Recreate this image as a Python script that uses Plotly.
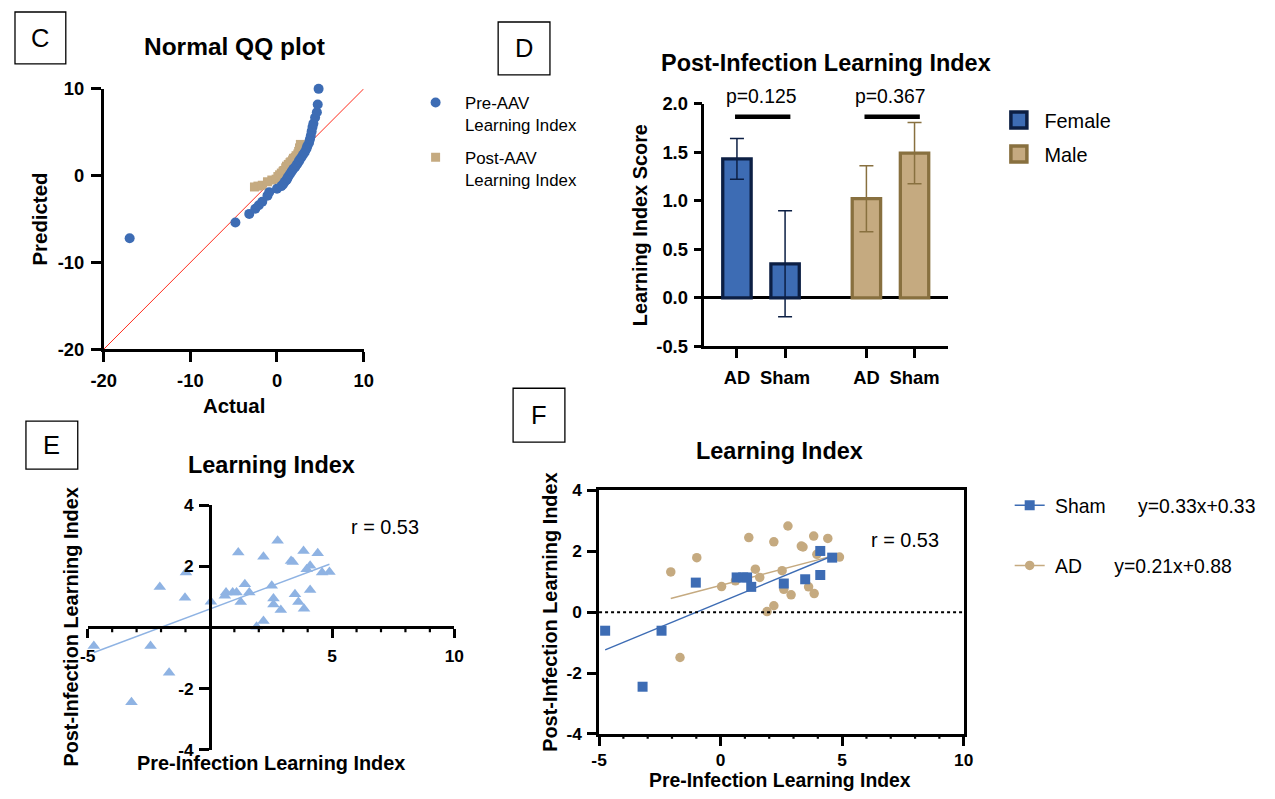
import numpy as np
import plotly.graph_objects as go

W, H = 1275, 799
# Mapping from target picture pixels to figure pixels (the page places the
# figure slightly inset and scaled), used for all layout positions below.
AX, AY, SX, SY = 10.0, 9.0, 0.9857, 0.9756
FS = 1 / 0.98   # font size compensation for that scaling
FONT = "Liberation Sans, Arial, Helvetica, sans-serif"

BLUE = "#3D6CB4"
NAVY = "#0C1F44"
TAN = "#C5AA80"
BROWN = "#88703F"
LIGHT_BLUE = "#8FB3E3"
RED = "#FF2A1A"

# ---------------- Panel C: normal QQ plot ----------------
pre_actual = [-17.0, -4.8, -3.2, -2.5, -2.1, -1.7, -1.1, -0.9, 0.0, 0.5, 0.7, 0.9,
              1.1, 1.2, 1.3, 1.5, 1.7, 1.9, 2.1, 2.3, 2.5, 2.6, 2.8, 3.0, 3.2, 3.4,
              3.5, 3.7, 3.8, 3.9, 4.0, 4.1, 4.2, 4.4, 4.6, 4.7, 4.8]
pre_predicted = [-7.2, -5.4, -4.4, -3.8, -3.4, -3.0, -2.3, -1.9, -1.5, -1.2, -1.0, -0.7,
                 -0.5, -0.3, -0.1, 0.2, 0.5, 0.8, 1.0, 1.3, 1.6, 1.8, 2.1, 2.4, 2.7, 3.1,
                 3.4, 3.8, 4.2, 4.6, 5.1, 5.6, 6.0, 6.7, 7.3, 8.2, 10.0]
post_actual = [-2.6, -2.2, -1.7, -1.1, -0.6, -0.1, 0.1, 0.3, 0.5, 0.7, 0.8, 1.0,
               1.1, 1.3, 1.5, 1.6, 1.8, 1.9, 2.1, 2.2, 2.4, 2.5, 2.6, 2.7]
post_predicted = [-1.3, -1.2, -1.1, -0.7, -0.5, -0.4, -0.1, 0.1, 0.3, 0.5, 0.6, 0.9,
                  1.1, 1.3, 1.5, 1.6, 1.8, 2.0, 2.1, 2.3, 2.5, 2.8, 3.2, 3.6]
qq_range = [-20, 10]
qq_ticks = [-20, -10, 0, 10]

# ---------------- Panel D: post-infection bars ----------------
conditions = ["AD", "Sham"]
female_mean = [1.43, 0.35]
female_sem = [0.21, 0.545]
male_mean = [1.02, 1.49]
male_sem = [0.34, 0.315]
p_values = ["0.125", "0.367"]
score_ticks = [-0.5, 0.0, 0.5, 1.0, 1.5, 2.0]

# ---------------- Panels E / F: pre vs post learning index ----------------
sham_pre = [-4.75, -3.21, -2.43, -1.02, 0.66, 0.93, 1.09, 1.26, 2.60, 3.48, 4.10, 4.10, 4.59]
sham_post = [-0.61, -2.45, -0.61, 0.97, 1.14, 1.14, 1.14, 0.83, 0.94, 1.08, 2.01, 1.22, 1.79]
ad_pre = [-2.05, -0.98, -1.67, 0.04, 0.61, 1.16, 1.43, 1.61, 1.91, 2.19, 2.19, 2.53,
          2.60, 2.77, 2.90, 3.32, 3.39, 3.62, 3.83, 3.85, 3.96, 4.41, 4.89]
ad_post = [1.32, 1.79, -1.49, 0.84, 1.03, 2.45, 1.41, 1.14, 0.02, 0.21, 2.31, 1.36,
           0.75, 2.83, 0.57, 2.17, 2.14, 0.83, 2.50, 0.61, 1.90, 2.42, 1.81]
sham_fit = (0.33, 0.33)   # slope, intercept
ad_fit = (0.21, 0.88)
r_value = 0.53
pre_ticks_e = [-5, 5, 10]
post_ticks_e = [-4, -2, 2, 4]
pre_ticks_f = [-5, 0, 5, 10]
post_ticks_f = [-4, -2, 0, 2, 4]
pre_minor = list(range(-5, 11))


# ---------------- helpers ----------------
def px2x(px):
    return (px - AX) / SX / W


def px2y(py):
    return 1 - (py - AY) / SY / H


def dom_x(left, right):
    return [px2x(left), px2x(right)]


def dom_y(top, bottom):
    return [px2y(bottom), px2y(top)]


def font(size, bold=False):
    return dict(family=FONT, size=size * FS, color="black",
                weight="bold" if bold else "normal")


def text_at(px, py, text, size, bold=False, angle=0, xanchor="center"):
    return dict(x=px2x(px), y=px2y(py), xref="paper", yref="paper", text=text,
                showarrow=False, font=font(size, bold), textangle=angle,
                xanchor=xanchor, yanchor="middle")


def letter_box(x0, y0, x1, y1, letter):
    shape = dict(type="rect", xref="paper", yref="paper", x0=px2x(x0), x1=px2x(x1),
                 y0=px2y(y1), y1=px2y(y0), line=dict(color="black", width=1.3))
    ann = text_at((x0 + x1) / 2, (y0 + y1) / 2, letter, 25)
    return shape, ann


def bold_ticks(vals, fmt="{:g}"):
    return dict(tickmode="array", tickvals=list(vals),
                ticktext=["<b>" + fmt.format(v) + "</b>" for v in vals])


def axis(**kw):
    base = dict(showline=True, linecolor="black", linewidth=2.5, ticks="outside",
                ticklen=9, tickwidth=2.5, tickcolor="black", showgrid=False,
                zeroline=False, tickfont=font(17, True), fixedrange=True)
    base.update(kw)
    return base


def frac(v, rng):
    return (v - rng[0]) / (rng[1] - rng[0])


def to_paper(v, rng, dom):
    return dom[0] + frac(v, rng) * (dom[1] - dom[0])


def unit_ticks(xref, y_paper, skip, length=5):
    """Short unlabeled tick marks at every integer of the pre-infection axis."""
    return [dict(type="line", xref=xref, yref="paper", x0=v, x1=v,
                 y0=y_paper, y1=y_paper - length / H,
                 line=dict(color="black", width=2.2))
            for v in pre_minor if v not in skip]


fig = go.Figure()

# ---------------- Panel C traces ----------------
ind = "\u00a0\u00a0"
fig.add_trace(go.Scatter(x=qq_range, y=qq_range, mode="lines",
                         line=dict(color=RED, width=1), showlegend=False,
                         xaxis="x", yaxis="y", hoverinfo="skip"))
fig.add_trace(go.Scatter(x=post_actual, y=post_predicted, mode="markers",
                         name=ind + "Post-AAV<br>" + ind + "Learning Index",
                         legend="legend", legendgroup="post", legendrank=2,
                         marker=dict(symbol="square", size=9, color=TAN),
                         cliponaxis=False, xaxis="x", yaxis="y"))
fig.add_trace(go.Scatter(x=pre_actual, y=pre_predicted, mode="markers",
                         name=ind + "Pre-AAV<br>" + ind + "Learning Index",
                         legend="legend", legendgroup="pre", legendrank=1,
                         marker=dict(symbol="circle", size=10, color=BLUE),
                         cliponaxis=False, xaxis="x", yaxis="y"))

# ---------------- Panel D traces ----------------
bar_step = 1.0
group_gap = 2.69
female_pos = [i * bar_step for i in range(len(conditions))]
male_pos = [group_gap + i * bar_step for i in range(len(conditions))]
d_xrange = [-0.677, 4.38]
d_yrange = [-0.5, 2.0]
d_xdom, d_ydom = dom_x(704, 948.3), dom_y(101.7, 345)

fig.add_trace(go.Bar(x=female_pos, y=female_mean, width=0.59, name="Female",
                     marker=dict(color=BLUE, line=dict(color=NAVY, width=3.3)),
                     error_y=dict(type="data", array=female_sem, color=NAVY,
                                  thickness=1.5, width=7),
                     showlegend=False, xaxis="x2", yaxis="y2"))
fig.add_trace(go.Bar(x=male_pos, y=male_mean, width=0.59, name="Male",
                     marker=dict(color=TAN, line=dict(color=BROWN, width=3.3)),
                     error_y=dict(type="data", array=male_sem, color=BROWN,
                                  thickness=1.5, width=7),
                     showlegend=False, xaxis="x2", yaxis="y2"))
# legend swatches for the two sexes
for nm, fill, edge, grp in [("Female", BLUE, NAVY, "f"), ("Male", TAN, BROWN, "m")]:
    fig.add_trace(go.Scatter(x=[None], y=[None], mode="markers", name="\u00a0" + nm,
                             legend="legend2", legendgroup=grp,
                             marker=dict(symbol="square", size=16, color=fill,
                                         line=dict(color=edge, width=3.5)),
                             xaxis="x2", yaxis="y2"))

# ---------------- Panel E traces ----------------
all_pre = np.array(sham_pre + ad_pre)
all_post = np.array(sham_post + ad_post)
e_slope, e_int = np.polyfit(all_pre, all_post, 1)
e_line_x = np.array([all_pre.min(), all_pre.max()])
fig.add_trace(go.Scatter(x=e_line_x, y=e_slope * e_line_x + e_int, mode="lines",
                         line=dict(color=LIGHT_BLUE, width=1.4), showlegend=False,
                         xaxis="x3", yaxis="y3"))
fig.add_trace(go.Scatter(x=all_pre, y=all_post, mode="markers",
                         marker=dict(symbol="triangle-up", size=11, color=LIGHT_BLUE),
                         showlegend=False, cliponaxis=False, xaxis="x3", yaxis="y3"))

# ---------------- Panel F traces ----------------
for xs, ys, fit, color, sym, size in [
        (ad_pre, ad_post, ad_fit, TAN, "circle", 9.5),
        (sham_pre, sham_post, sham_fit, BLUE, "square", 10)]:
    fx = np.array([min(xs), max(xs)])
    fig.add_trace(go.Scatter(x=fx, y=fit[0] * fx + fit[1], mode="lines",
                             line=dict(color=color, width=1.4), showlegend=False,
                             xaxis="x4", yaxis="y4"))
    fig.add_trace(go.Scatter(x=xs, y=ys, mode="markers",
                             marker=dict(symbol=sym, size=size, color=color),
                             showlegend=False, cliponaxis=False,
                             xaxis="x4", yaxis="y4"))

gap = "\u00a0" * 6
for label, fit, color, sym, size, grp, rank in [
        ("Sham", sham_fit, BLUE, "square", 10, "sham", 1),
        ("AD", ad_fit, TAN, "circle", 9.5, "ad", 2)]:
    eq = f"y={fit[0]:.2f}x+{fit[1]:.2f}"
    fig.add_trace(go.Scatter(x=[None], y=[None], mode="lines+markers",
                             name="\u00a0" + label + gap + eq, legend="legend3",
                             legendgroup=grp, legendrank=rank,
                             line=dict(color=color, width=1.4),
                             marker=dict(symbol=sym, size=size, color=color),
                             xaxis="x4", yaxis="y4"))

# ---------------- axes ----------------
c_x = axis(domain=dom_x(101, 362), range=qq_range, anchor="y",
           tickfont=font(18, True), ticklen=10, ticklabelstandoff=3, **bold_ticks(qq_ticks))
c_y = axis(domain=dom_y(87, 348), range=qq_range, anchor="x",
           tickfont=font(18, True), ticklen=10, ticklabelstandoff=3, **bold_ticks(qq_ticks))

d_x = axis(domain=d_xdom, range=d_xrange, tickmode="array",
           tickvals=female_pos + male_pos,
           ticktext=["<b>" + c + "</b>" for c in conditions + conditions],
           anchor="y2", tickfont=font(18, True), ticklabelstandoff=4)
d_y = axis(domain=d_ydom, range=d_yrange, anchor="x2", zeroline=True,
           zerolinecolor="black", zerolinewidth=3, tickfont=font(18, True),
           ticklen=8, ticklabelstandoff=2, **bold_ticks(score_ticks, "{:.1f}"))

e_xdom, e_ydom = dom_x(85, 453), dom_y(504, 749)
e_xr, e_yr = [-5, 10], [-4, 4]
e_xpos = to_paper(0, e_yr, e_ydom)
e_ypos = to_paper(0, e_xr, e_xdom)
e_x = axis(domain=e_xdom, range=e_xr, anchor="free", position=e_xpos,
           ticklabelstandoff=3, **bold_ticks(pre_ticks_e))
e_y = axis(domain=e_ydom, range=e_yr, anchor="free", position=e_ypos,
           ticklen=10, ticklabelstandoff=2, **bold_ticks(post_ticks_e))

f_xdom, f_ydom = dom_x(598.3, 964.3), dom_y(489.3, 733.3)
f_x = axis(domain=f_xdom, range=[-5, 10], anchor="y4", mirror=True,
           ticklabelstandoff=0, **bold_ticks(pre_ticks_f))
f_y = axis(domain=f_ydom, range=[-4, 4], anchor="x4", mirror=True,
           ticklabelstandoff=2, **bold_ticks(post_ticks_f))

# ---------------- shapes & annotations ----------------
shapes, anns = [], []
for box in [(12, 10, 63, 62, "C"), (497, 20, 549, 73, "D"),
            (23, 420, 75, 468, "E"), (512, 387, 564, 441, "F")]:
    s, a = letter_box(*box)
    shapes.append(s)
    anns.append(a)

# unit tick marks along the pre-infection axes of E and F
shapes += unit_ticks("x3", e_xpos, pre_ticks_e + [0])
shapes += unit_ticks("x4", f_ydom[0], pre_ticks_f)

# significance bars in panel D
bracket_y = 1.864
for pos, p in [(female_pos, p_values[0]), (male_pos, p_values[1])]:
    shapes.append(dict(type="line", xref="x2", yref="y2", x0=pos[0] - 0.04,
                       x1=pos[1] + 0.11, y0=bracket_y, y1=bracket_y,
                       line=dict(color="black", width=4.5)))
    anns.append(dict(x=(pos[0] + pos[1]) / 2, xref="x2",
                     y=to_paper(bracket_y + 0.21, d_yrange, d_ydom), yref="paper",
                     text=f"p={p}", showarrow=False, font=font(19),
                     xanchor="center", yanchor="middle"))

# dotted zero line in panel F
shapes.append(dict(type="line", xref="x4 domain", yref="y4", x0=0, x1=1, y0=0, y1=0,
                   line=dict(color="black", width=2, dash="dot")))

anns += [
    text_at(232, 45, "Normal QQ plot", 24, True),
    text_at(37, 217, "Predicted", 20, True, -90),
    text_at(232, 405, "Actual", 20, True),
    text_at(826, 61, "Post-Infection Learning Index", 23, True),
    text_at(639, 224, "Learning Index Score", 19.5, True, -90),
    text_at(269, 464, "Learning Index", 23, True),
    text_at(68, 626, "Post-Infection Learning Index", 19.5, True, -90),
    text_at(269, 762, "Pre-Infection Learning Index", 19.5, True),
    text_at(383, 526, f"r = {r_value:.2f}", 19.5),
    text_at(779, 450, "Learning Index", 23, True),
    text_at(549, 611, "Post-Infection Learning Index", 19.5, True, -90),
    text_at(780, 779, "Pre-Infection Learning Index", 19, True),
    text_at(905, 539, f"r = {r_value:.2f}", 19.5),
]

legend_common = dict(xanchor="left", yanchor="top", bgcolor="rgba(0,0,0,0)",
                     borderwidth=0, itemclick=False, itemdoubleclick=False)

fig.update_layout(
    width=W, height=H, autosize=False,
    margin=dict(l=0, r=0, t=0, b=0),
    paper_bgcolor="white", plot_bgcolor="white",
    font=dict(family=FONT, color="black"),
    barmode="overlay",
    xaxis=c_x, yaxis=c_y, xaxis2=d_x, yaxis2=d_y,
    xaxis3=e_x, yaxis3=e_y, xaxis4=f_x, yaxis4=f_y,
    shapes=shapes, annotations=anns,
    legend=dict(x=410 / W, y=1 - 76 / H, font=font(16.5), valign="top",
                tracegroupgap=8, **legend_common),
    legend2=dict(x=1004 / W, y=1 - 92 / H, font=font(19.5), tracegroupgap=5,
                 **legend_common),
    legend3=dict(x=1015 / W, y=1 - 488 / H, font=font(19), tracegroupgap=32,
                 **legend_common),
)

fig.write_html("out.html")
